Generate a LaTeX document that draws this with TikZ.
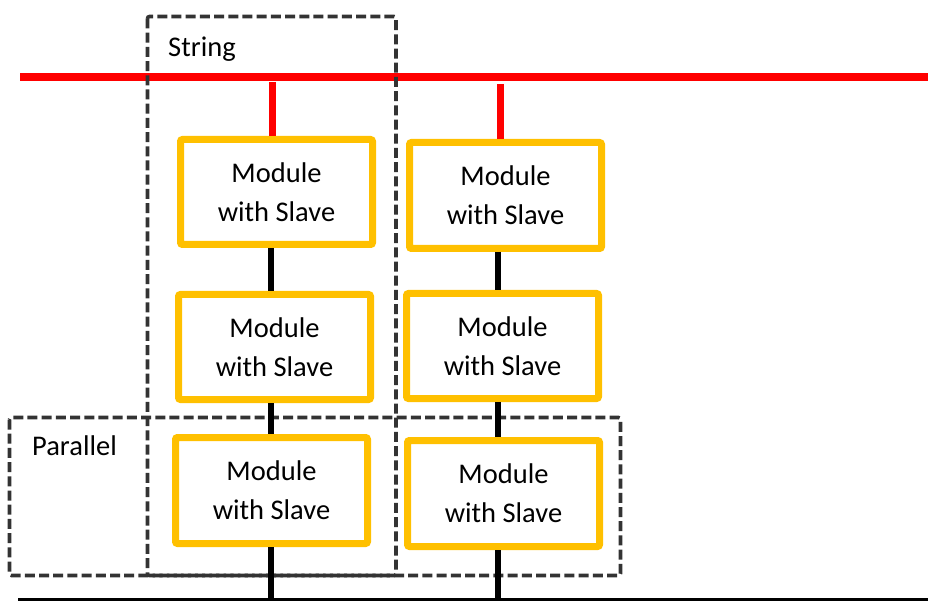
\documentclass[tikz,border=0pt]{standalone}
\usepackage{fontspec}
\setmainfont{Carlito}
\definecolor{gold}{HTML}{FFC000}
\definecolor{busred}{HTML}{FF0000}
\definecolor{dashgray}{HTML}{333333}
\begin{document}
\begin{tikzpicture}[x=1pt,y=-1pt,
  modbox/.style={draw=gold, line width=7pt, fill=white, rounded corners=2pt,
    minimum width=192pt, minimum height=105pt, inner sep=0pt, align=center,
    font=\fontsize{28.5pt}{39pt}\selectfont},
  grpbox/.style={draw=dashgray, line width=3.6pt, dash pattern=on 10pt off 4.2pt, rounded corners=2pt},
  grplabel/.style={anchor=base west, inner sep=0pt, font=\fontsize{28.5pt}{34pt}\selectfont},
  redline/.style={draw=busred, line width=8pt},
  redstub/.style={draw=busred, line width=7pt},
  blackline/.style={draw=black, line width=6pt},
  busline/.style={draw=black, line width=5pt}]
\useasboundingbox (0,0) rectangle (928,601);
% red bus
\coordinate (rl) at (20,77);
\coordinate (rr) at (928,77);
\draw[redline] (rl) -- (rr);
% black bus
\coordinate (bl) at (18,600);
\coordinate (br) at (928,600);
\draw[busline] (bl) -- (br);
% dashed groups
\draw[grpbox] (147.5,16.5) rectangle (396,575.5);
\draw[grpbox] (9.5,417.5) rectangle (620.5,575.5);
\node[grplabel] (lstring) at (168,57) {String};
\node[grplabel] (lpar) at (32,455) {Parallel};
% modules
\node[modbox] (m11) at (276.5,192) {Module\\with Slave};
\node[modbox] (m12) at (274.5,347) {Module\\with Slave};
\node[modbox, minimum height=106pt] (m13) at (271.5,490.5) {Module\\with Slave};
\node[modbox, minimum height=106pt] (m21) at (505.5,195.5) {Module\\with Slave};
\node[modbox] (m22) at (502.5,346) {Module\\with Slave};
\node[modbox, minimum height=106pt] (m23) at (503.5,493.5) {Module\\with Slave};
% column references
\coordinate (c1) at (270.5,0);
\coordinate (c2) at (498,0);
\coordinate (s1) at (272.5,82);
\coordinate (s2) at (500.5,84);
% red stubs
\draw[redstub] (s1) -- (s1 |- m11.north);
\draw[redstub] (s2) -- (s2 |- m21.north);
% black connectors
\draw[blackline] (m11.south -| c1) -- (m12.north -| c1);
\draw[blackline] (m12.south -| c1) -- (m13.north -| c1);
\draw[blackline] (m13.south -| c1) -- (c1 |- bl);
\draw[blackline] (m21.south -| c2) -- (m22.north -| c2);
\draw[blackline] (m22.south -| c2) -- (m23.north -| c2);
\draw[blackline] (m23.south -| c2) -- (c2 |- bl);
\end{tikzpicture}
\end{document}
